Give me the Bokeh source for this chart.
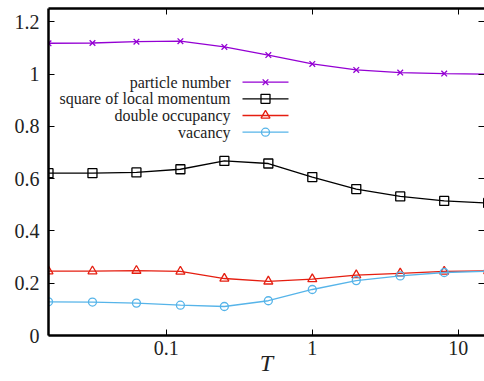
from bokeh.plotting import figure
from bokeh.models import (LogAxis, LinearAxis, FixedTicker, CustomJSTickFormatter,
                          Label, Range1d, LinearScale)
from bokeh.embed import file_html
from bokeh.resources import INLINE

# ---- data ----
T = [1/64, 1/32, 1/16, 1/8, 1/4, 1/2, 1, 2, 4, 8, 16]
particle = [1.118, 1.119, 1.124, 1.126, 1.104, 1.073, 1.039, 1.016, 1.006, 1.002, 1.000]
square_mom = [0.621, 0.621, 0.624, 0.636, 0.668, 0.658, 0.606, 0.560, 0.532, 0.515, 0.507]
double_occ = [0.246, 0.246, 0.248, 0.245, 0.218, 0.207, 0.216, 0.231, 0.238, 0.245, 0.247]
vacancy = [0.129, 0.128, 0.124, 0.116, 0.111, 0.133, 0.176, 0.210, 0.228, 0.241, 0.246]

labels = ["particle number", "square of local momentum", "double occupancy", "vacancy"]
x_ticks = [0.1, 1, 10]
y_ticks = [0, 0.2, 0.4, 0.6, 0.8, 1.0, 1.2]

FONT = "Liberation Serif"
W, H = 484, 381
ML, MT, MB = 48, 8, 46
FW, FH = W - ML, H - MT - MB

p = figure(width=W, height=H, x_axis_type="log",
           x_range=Range1d(1/64, 15.1), y_range=Range1d(0, 1.251),
           output_backend="svg", toolbar_location=None,
           min_border_left=ML, min_border_right=0, min_border_top=MT, min_border_bottom=MB)
p.outline_line_color = None
p.xgrid.visible = False
p.ygrid.visible = False
p.background_fill_color = "white"
p.border_fill_color = "white"

# pixel-space ranges (frame-relative) for the legend keys
p.extra_x_ranges = {"px": Range1d(0, FW)}
p.extra_y_ranges = {"px": Range1d(0, FH)}
p.extra_x_scales = {"px": LinearScale()}
p.extra_y_scales = {"px": LinearScale()}

fmt = CustomJSTickFormatter(code="return String(tick)")
blank = CustomJSTickFormatter(code="return ''")

def style_axis(ax, ticks, show_labels, line=True):
    ax.ticker = FixedTicker(ticks=ticks, minor_ticks=[])
    ax.major_tick_in = 6
    ax.major_tick_out = 0
    ax.minor_tick_in = 0
    ax.minor_tick_out = 0
    ax.major_tick_line_color = "black"
    ax.major_tick_line_width = 1
    ax.axis_line_color = "black" if line else None
    ax.axis_line_width = 2.5
    if show_labels:
        ax.formatter = fmt
        ax.major_label_text_font = FONT
        ax.major_label_text_font_size = "20px"
        ax.major_label_text_color = "#222222"
    else:
        ax.formatter = blank
        ax.major_label_text_font_size = "1px"
        ax.major_label_standoff = 0

xb = p.xaxis[0]
style_axis(xb, x_ticks, True)
xb.major_label_standoff = 5
xb.axis_label = "T"
xb.axis_label_text_font = FONT
xb.axis_label_text_font_style = "italic"
xb.axis_label_text_font_size = "24px"
xb.axis_label_text_color = "#222222"
xb.axis_label_standoff = -8

yl = p.yaxis[0]
style_axis(yl, y_ticks, True)
yl.major_label_standoff = 9

top = LogAxis()
style_axis(top, x_ticks, False)
p.add_layout(top, "above")
right = LinearAxis()
style_axis(right, y_ticks, False, line=False)
p.add_layout(right, "right")

colors = ["#9400d3", "#000000", "#e51e10", "#56b4e9"]
markers = ["x", "square", "triangle", "circle"]
sizes = [8, 9, 9, 8]
series = [particle, square_mom, double_occ, vacancy]

for ys, c, m, s in zip(series, colors, markers, sizes):
    p.line(T, ys, line_color=c, line_width=1.3)
    p.scatter(T, ys, marker=m, size=s, line_color=c, fill_color=None, line_width=1.3)

# legend: text right-aligned, key sample to its right
row_y = [253.3, 236.7, 220.0, 203.3]
key_x0, key_x1, key_xm, text_x = 194, 240, 217, 182
for lab, yy, c, m, s in zip(labels, row_y, colors, markers, sizes):
    p.line([key_x0, key_x1], [yy, yy], line_color=c, line_width=1.3,
           x_range_name="px", y_range_name="px")
    p.scatter([key_xm], [yy], marker=m, size=s, line_color=c, fill_color=None,
              line_width=1.3, x_range_name="px", y_range_name="px")
    p.add_layout(Label(x=text_x, y=yy, x_units="screen", y_units="screen", text=lab,
                       text_align="right", text_baseline="middle",
                       text_font=FONT, text_font_size="16px", text_color="#222222"))

open("out.html", "w").write(file_html(p, INLINE))
